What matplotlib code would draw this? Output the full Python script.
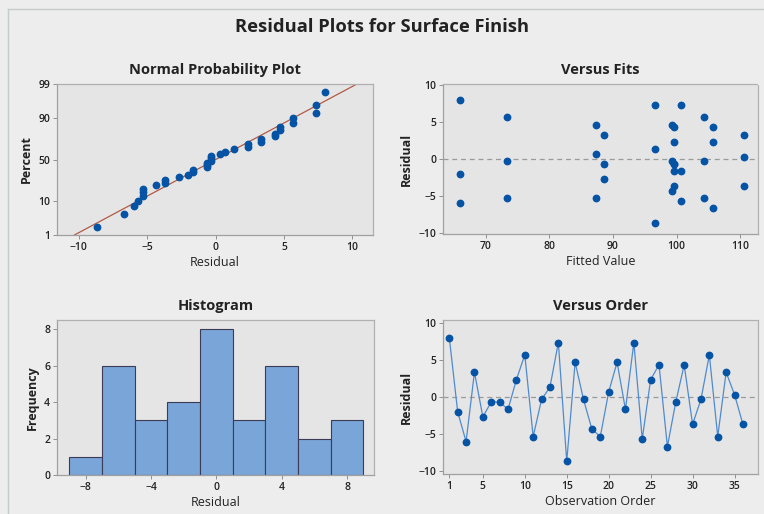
import matplotlib
matplotlib.use("Agg")
import matplotlib.pyplot as plt
from matplotlib.lines import Line2D
from statistics import NormalDist
import numpy as np

# residuals in observation order (read from "Versus Order")
residuals = [8.00, -2.00, -6.00, 3.33, -2.67, -0.67, -0.67, -1.67, 2.33,
             5.67, -5.33, -0.33, 1.33, 7.33, -8.67, 4.67, -0.33, -4.33,
             -5.33, 0.67, 4.67, -1.67, 7.33, -5.67, 2.33, 4.33, -6.67,
             -0.67, 4.33, -3.67, -0.33, 5.67, -5.33, 3.33, 0.33, -3.67]

# fitted values for each observation (read from "Versus Fits")
fitted = [66.00, 66.00, 66.00, 88.67, 88.67, 88.67, 99.67, 99.67, 99.67,
          73.33, 73.33, 73.33, 96.67, 96.67, 96.67, 99.33, 99.33, 99.33,
          87.33, 87.33, 87.33, 100.67, 100.67, 100.67, 105.67, 105.67, 105.67,
          99.67, 99.67, 99.67, 104.33, 104.33, 104.33, 110.67, 110.67, 110.67]

# histogram bins (centres) and counts
bin_centers = [-8, -6, -4, -2, 0, 2, 4, 6, 8]
bin_counts = [1, 6, 3, 4, 8, 3, 6, 2, 3]

percent_ticks = [1, 10, 50, 90, 99]

plt.rcParams["font.family"] = ["Open Sans", "DejaVu Sans"]

FIG_BG = "#ededed"
AX_BG = "#e5e5e5"
DOT = "#0553a5"
TXT = "#222222"

W, H = 764, 514
fig = plt.figure(figsize=(W / 100, H / 100), dpi=100, facecolor=FIG_BG)


def px_axes(x0, y0, x1, y1):
    ax = fig.add_axes([x0 / W, (H - y1) / H, (x1 - x0) / W, (y1 - y0) / H])
    ax.set_facecolor(AX_BG)
    for side in ["left", "bottom"]:
        ax.spines[side].set_color("#a0a0a0")
        ax.spines[side].set_linewidth(0.9)
    for side in ["top", "right"]:
        ax.spines[side].set_color("#b0b0b0")
        ax.spines[side].set_linewidth(0.9)
        ax.spines[side].set_linestyle((0, (2, 1)))
    ax.tick_params(length=3, width=0.7, color="#909090", labelsize=7.5,
                   labelcolor=TXT, pad=2)
    return ax


def style_labels(ax, title, xlabel, ylabel):
    ax.set_title(title, fontsize=10.5, fontweight="bold", color=TXT, pad=7)
    ax.set_xlabel(xlabel, fontsize=9, color=TXT, labelpad=2)
    ax.set_ylabel(ylabel, fontsize=9, color=TXT, fontweight="bold", labelpad=4)
    for lab in ax.get_xticklabels() + ax.get_yticklabels():
        lab.set_fontweight("semibold")


# frame around the figure
fig.add_artist(Line2D([8 / W, 8 / W], [0, (H - 9) / H], color="#c4cccc", lw=1))
fig.add_artist(Line2D([8 / W, 1], [(H - 9) / H, (H - 9) / H], color="#c4cccc", lw=1))

fig.text(0.5, (H - 27) / H, "Residual Plots for Surface Finish", ha="center",
         va="center", fontsize=13.2, fontweight="bold", color=TXT)

# --- Normal probability plot
nd = NormalDist()
res = np.array(residuals)
n = len(res)
srt = np.sort(res)
pos = [(i - 0.3) / (n + 0.4) for i in range(1, n + 1)]
zq = [nd.inv_cdf(p) for p in pos]
mu, sd = res.mean(), res.std(ddof=1)
z_lo, z_hi = nd.inv_cdf(0.01), nd.inv_cdf(0.99)

ax1 = px_axes(57, 84, 373, 235)
ax1.plot([mu + sd * z_lo, mu + sd * z_hi], [z_lo, z_hi], color="#b25a45", lw=0.9)
ax1.plot(srt, zq, "o", color=DOT, ms=4.6, mec=DOT)
ax1.set_xlim(-11.6, 11.5)
ax1.set_ylim(z_lo, z_hi)
ax1.set_xticks([-10, -5, 0, 5, 10])
ax1.set_yticks([nd.inv_cdf(p / 100) for p in percent_ticks])
ax1.set_yticklabels([str(p) for p in percent_ticks])
style_labels(ax1, "Normal Probability Plot", "Residual", "Percent")

# --- Versus fits
ax2 = px_axes(443, 84, 758, 234)
ax2.axhline(0, color="#9a9a9a", lw=0.9, ls=(0, (4, 3)))
ax2.plot(fitted, residuals, "o", color=DOT, ms=4.6, mec=DOT)
ax2.set_xlim(63.3, 112.8)
ax2.set_ylim(-10.2, 10.2)
ax2.set_xticks([70, 80, 90, 100, 110])
ax2.set_yticks([-10, -5, 0, 5, 10])
style_labels(ax2, "Versus Fits", "Fitted Value", "Residual")

# --- Histogram
ax3 = px_axes(57, 320, 374, 475)
ax3.bar(bin_centers, bin_counts, width=2, color="#7aa5d8", edgecolor="#3b3b58",
        linewidth=0.8)
ax3.set_xlim(-9.75, 9.65)
ax3.set_ylim(0, 8.5)
ax3.set_xticks([-8, -4, 0, 4, 8])
ax3.set_yticks([0, 2, 4, 6, 8])
style_labels(ax3, "Histogram", "Residual", "Frequency")

# --- Versus order
order = np.arange(1, n + 1)
ax4 = px_axes(443, 320, 758, 474)
ax4.axhline(0, color="#9a9a9a", lw=0.9, ls=(0, (4, 3)))
ax4.plot(order, residuals, "-", color="#4f8ad0", lw=0.9)
ax4.plot(order, residuals, "o", color=DOT, ms=4.6, mec=DOT)
ax4.set_xlim(0.25, 37.8)
ax4.set_ylim(-10.36, 10.36)
ax4.set_xticks([1, 5, 10, 15, 20, 25, 30, 35])
ax4.set_yticks([-10, -5, 0, 5, 10])
style_labels(ax4, "Versus Order", "Observation Order", "Residual")

fig.savefig("out.png", dpi=100, facecolor=FIG_BG)
